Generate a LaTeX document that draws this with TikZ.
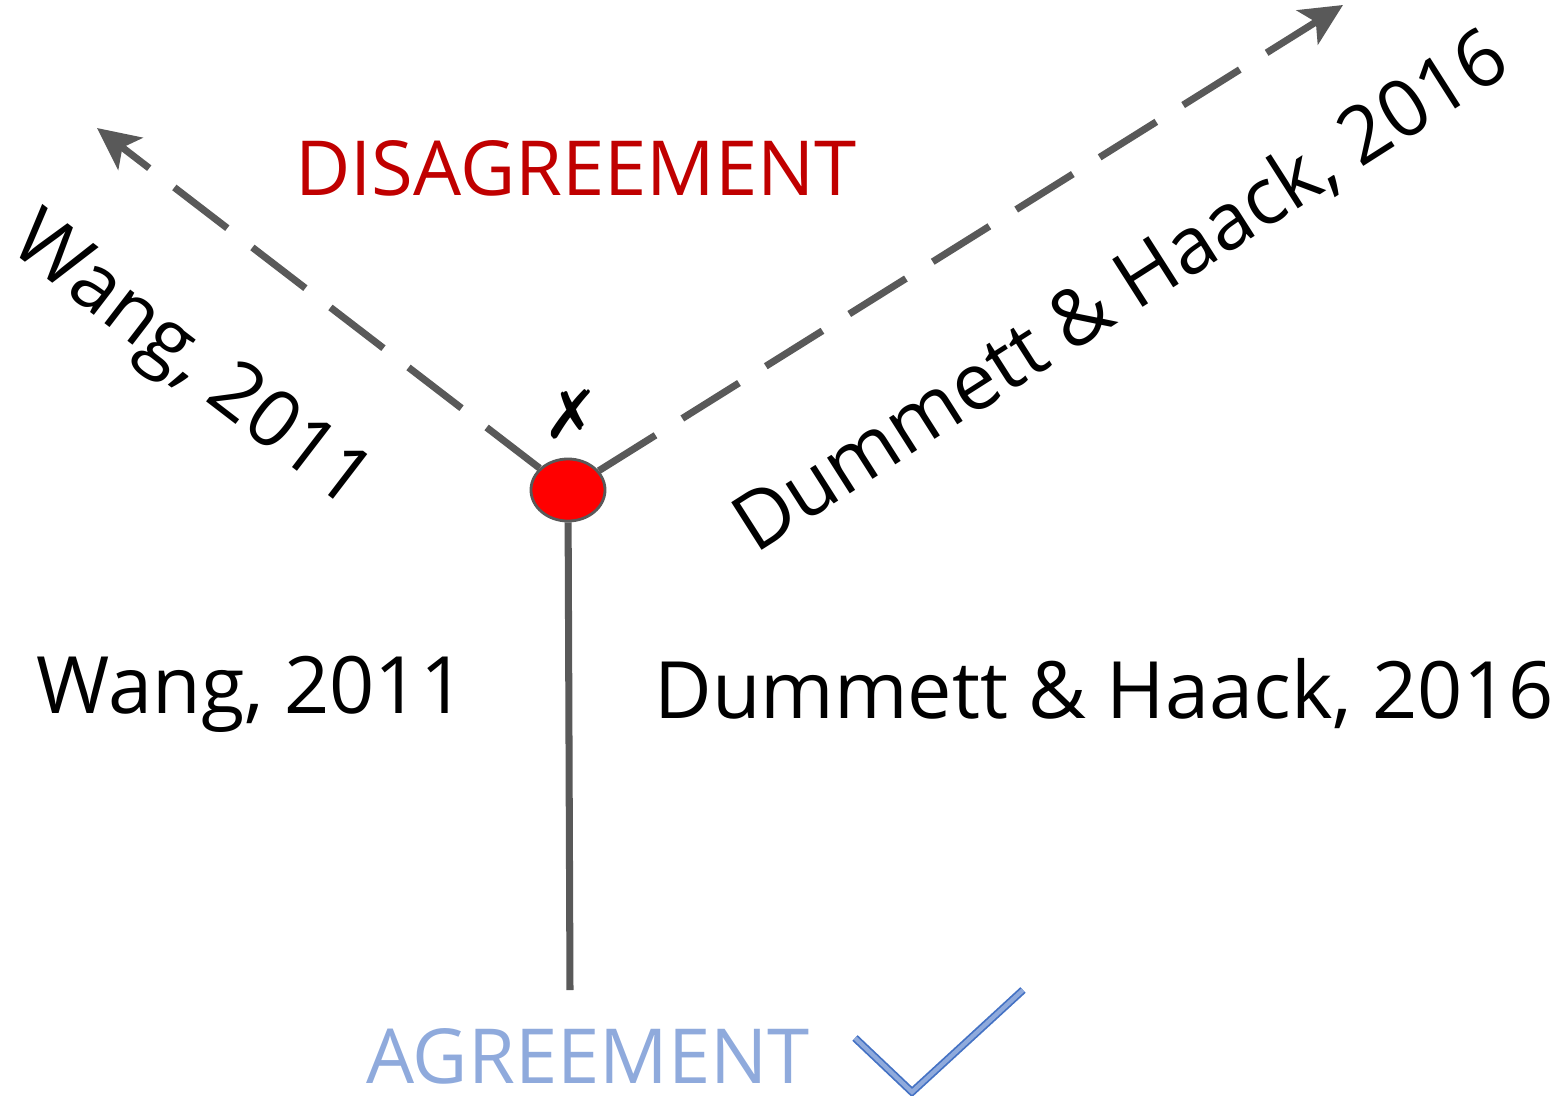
\documentclass[tikz,border=0pt]{standalone}
\usepackage{fontspec}
\setmainfont{Open Sans}
\newfontfamily\symfont{DejaVu Sans}
\usepackage{xcolor}
\usetikzlibrary{arrows.meta,positioning,shapes.geometric,calc}
\definecolor{axisgray}{HTML}{595959}
\definecolor{disred}{HTML}{C00000}
\definecolor{agrblue}{HTML}{8FAADC}
\definecolor{tickblue}{HTML}{4472C4}

\begin{document}
\begin{tikzpicture}[
    x=0.01cm, y=-0.01cm,
    axis/.style={line width=2pt, color=axisgray},
    dasharrow/.style={axis, dash pattern=on 19pt off 9pt, -{Stealth[length=4.2mm, width=4mm, inset=1mm]}},
    label/.style={font=\fontsize{22.5}{26}\selectfont, inner sep=0pt},
    heading/.style={font=\fontsize{21.6}{26}\selectfont, inner sep=0pt}
]
\useasboundingbox (0,0) rectangle (1553,1096);

%% Point of (dis)agreement
\node[ellipse, draw=axisgray, line width=0.8pt, fill=red, minimum width=0.74cm, minimum height=0.62cm, inner sep=0pt] (dot) at (568,490) {};
\node[font=\symfont\fontsize{19}{22}\selectfont, inner sep=0pt] (mark) at (571,414) {✗};

%% Axis end points
\coordinate (wend) at (97,128);
\coordinate (dend) at (1343,5);
\coordinate (aend) at (570,990);

%% Axes
\draw[dasharrow] (dot) -- (wend);
\draw[dasharrow] (dot) -- (dend);
\draw[axis] (dot) -- (aend);

%% Headings
\node[heading, color=disred] (dis) at (576,168) {DISAGREEMENT};
\node[heading, color=agrblue] (agr) at (588,1056) {AGREEMENT};

%% Check mark
\coordinate (ck1) at (855,1038);
\coordinate (ck2) at (912,1092);
\coordinate (ck3) at (1023,990);
\draw[double=agrblue, double distance=1.2pt, draw=tickblue, line width=0.5pt] (ck1) -- (ck2) -- (ck3);

%% Positions along the disagreement axes
\node[label, rotate=-37.5] (wangd) at (189,364) {Wang, 2011};
\node[label, rotate=32.5] (dumd) at (1121,292) {Dummett \& Haack, 2016};

%% Positions along the agreement axis
\node[label] (wanga) at (251,694) {Wang, 2011};
\node[label] (duma) at (1104,694) {Dummett \& Haack, 2016};

\end{tikzpicture}
\end{document}
